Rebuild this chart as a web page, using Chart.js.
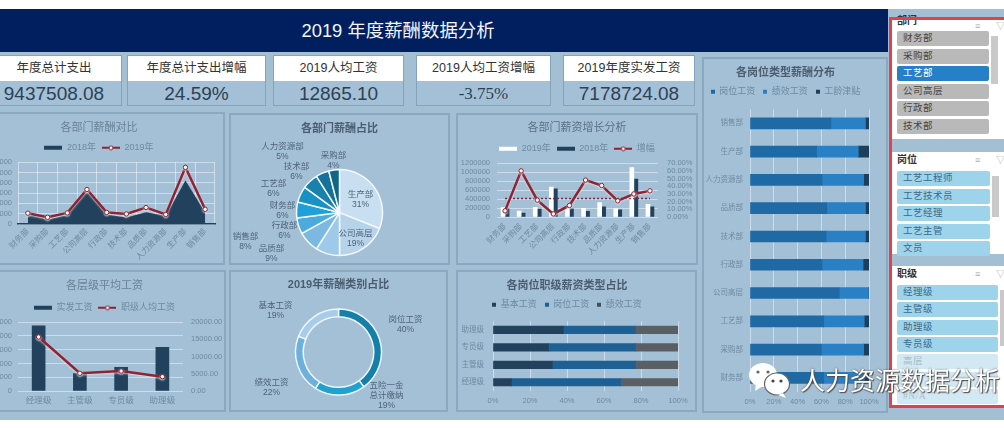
<!DOCTYPE html>
<html>
<head>
<meta charset="utf-8">
<script src="https://cdn.jsdelivr.net/npm/chart.js@4"></script>
<style>
html, body { margin: 0; padding: 0; background: #fff; overflow: hidden; }
body { width: 1004px; height: 428px; position: relative; font-family: "Liberation Sans", "Noto Sans CJK SC", sans-serif; }
#page { position: absolute; left: 0; top: 0; width: 1004px; height: 428px; overflow: hidden; filter: blur(0.35px); }
#bg { position: absolute; left: 0; top: 9px; width: 1004px; height: 411px; background: #a3bfd4; }
#head { position: absolute; left: 0; top: 9px; width: 888px; height: 43px; background: #011f5e; }
#head div { width: 796px; text-align: center; color: #f2f5fa; font-size: 18.4px; line-height: 43px; }
.panel { position: absolute; box-sizing: border-box; border: 2px solid #8aa9c0; background: #a4c0d6; }
.card { position: absolute; top: 55px; height: 51px; box-sizing: border-box; border: 1px solid #84a3ba; text-align: center; background: #a4c0d6; }
.card .k { height: 25px; line-height: 25px; background: #fff; color: #333; font-size: 12.5px; }
.card .v { line-height: 25px; color: #2c4155; font-size: 19px; }
canvas { position: absolute; }
.slicer { position: absolute; left: 892px; width: 112px; background: #fff; }
.slicer b { position: absolute; left: 5px; top: 1px; font-size: 10px; color: #333; line-height: 14px; }
.slicer i { position: absolute; font-style: normal; color: #aaa; font-size: 9px; line-height: 14px; top: 1px; }
.item { position: absolute; box-sizing: border-box; height: 15px; line-height: 15px; padding-left: 6px; border-radius: 2px; font-size: 9.5px; font-family: "Liberation Serif", "Noto Sans CJK SC", serif; letter-spacing: 0.5px; }
.bar { position: absolute; background: #c9c9c9; width: 7px; }
#frame { position: absolute; left: 889px; top: 17px; width: 130px; height: 391px; box-sizing: border-box; border: 3px solid #e2404a; }
#mark { position: absolute; left: 800px; top: 361px; font-size: 25px; line-height: 36px; color: #fff; white-space: nowrap; font-family: "Noto Sans CJK SC", sans-serif; text-shadow: 0 0 2px #444, 1px 1px 1px #555; }
#wx { position: absolute; left: 748px; top: 360px; }
</style>
</head>
<body>
<div id="page">
  <div id="bg"></div>
  <div id="head"><div>2019 年度薪酬数据分析</div></div>
  <div id="cards"></div>
  <div class="panel" style="left:-17px;top:112px;width:242px;height:153px"></div>
  <div class="panel" style="left:229px;top:113px;width:221px;height:152px"></div>
  <div class="panel" style="left:456px;top:113px;width:242px;height:152px"></div>
  <div class="panel" style="left:-17px;top:270px;width:243px;height:142px"></div>
  <div class="panel" style="left:229px;top:270px;width:219px;height:142px"></div>
  <div class="panel" style="left:456px;top:270px;width:241px;height:142px"></div>
  <div class="panel" style="left:702px;top:57px;width:186px;height:356px"></div>
  <div id="charts"></div>
  <div id="slicers"></div>
  <div id="frame"></div>
  <svg id="wx" width="50" height="40" viewBox="0 0 50 40">
    <ellipse cx="15" cy="15" rx="14" ry="12" fill="#fff"/>
    <path d="M8 24 L7 31 L15 26 Z" fill="#fff"/>
    <circle cx="10" cy="12" r="1.6" fill="#666"/><circle cx="20" cy="12" r="1.6" fill="#666"/>
    <ellipse cx="29" cy="24" rx="12.5" ry="11" fill="#fff" stroke="#666" stroke-width="1.2"/>
    <path d="M35 33 L38 38 L30 35 Z" fill="#fff"/>
    <circle cx="25" cy="21" r="1.6" fill="#444"/><circle cx="33" cy="21" r="1.6" fill="#444"/>
  </svg>
  <div id="mark">人力资源数据分析</div>
</div>

<script>
// values
const kpiNames = ["年度总计支出", "年度总计支出增幅", "2019人均工资", "2019人均工资增幅", "2019年度实发工资"];
const kpiValues = ["9437508.08", "24.59%", "12865.10", "-3.75%", "7178724.08"];

const depts = ["财务部", "采购部", "工艺部", "公司高层", "行政部", "技术部", "品质部", "人力资源部", "生产部", "销售部"];
const pay2019 = [210000, 130000, 215000, 670000, 225000, 195000, 320000, 185000, 1100000, 285000];
const pay2018 = [185000, 88000, 175000, 630000, 185000, 128000, 228000, 160000, 845000, 225000];
const growth = [8, 60, 22, 4, 15, 48, 41, 21, 30, 34];
const growthAvg = [24, 24, 24, 24, 24, 24, 24, 24, 24, 24];

const pieNames = ["生产部", "公司高层", "品质部", "销售部", "行政部", "财务部", "工艺部", "技术部", "人力资源部", "采购部"];
const pieShares = [31, 19, 9, 8, 6, 6, 6, 6, 5, 4];

const levels = ["经理级", "主管级", "专员级", "助理级"];
const levelPay = [2366000, 631000, 862000, 1590000];
const levelAvg = [15700, 5150, 5800, 4170];

const payTypes = ["岗位工资", "五险一金\n总计缴纳", "绩效工资", "基本工资"];
const payTypeShares = [40, 19, 22, 19];

const levelsRev = ["助理级", "专员级", "主管级", "经理级"];
const lvBase = [38, 30, 32, 10];
const lvPost = [39, 47, 45, 59];
const lvPerf = [23, 23, 23, 31];

const postDepts = ["销售部", "生产部", "人力资源部", "品质部", "技术部", "行政部", "公司高层", "工艺部", "采购部", "财务部"];
const postPay = [68, 56, 60.5, 64.5, 64, 60.5, 75, 62, 60, 62];
const perfPay = [29, 35, 35, 32.5, 33, 34.5, 24.5, 34, 35.5, 34];
const seniority = [3, 9, 4.5, 3, 3, 5, 0.5, 4, 4.5, 4];

const slicerDept = ["财务部", "采购部", "工艺部", "公司高层", "行政部", "技术部"];
const slicerPost = ["工艺工程师", "工艺技术员", "工艺经理", "工艺主管", "文员"];
const slicerLevel = ["经理级", "主管级", "助理级", "专员级", "高层", "员工", "#N/A"];

const FONT = "'Liberation Sans','Noto Sans CJK SC',sans-serif";
const RED = "#8f2233", DARK = "#22415c", TICK = "#6c8aa2", GRID = "rgba(255,255,255,.45)";

// KPI cards
const cardX = [[-14, 122], [127, 266], [273, 404], [416, 551], [563, 695]];
kpiNames.forEach((n, i) => {
  const d = document.createElement("div");
  d.className = "card";
  d.style.left = cardX[i][0] + "px";
  d.style.width = cardX[i][1] - cardX[i][0] + "px";
  const isSerif = i === 3 ? ' style="font-family:\'Liberation Serif\',serif;font-size:17px"' : "";
  d.innerHTML = `<div class="k">${n}</div><div class="v"${isSerif}>${kpiValues[i]}</div>`;
  document.getElementById("cards").appendChild(d);
});

// slicers on the right
function slicer(title, top, h, names, itemTop, step, width, styleOf, titleTop) {
  const s = document.createElement("div");
  s.className = "slicer";
  s.style.top = top + "px";
  s.style.height = h + "px";
  s.innerHTML = `<b style="top:${titleTop}px">${title}</b><i style="left:83px">≡</i><i style="left:104px">▽</i>`;
  names.forEach((n, i) => {
    const it = document.createElement("div");
    it.className = "item";
    it.textContent = n;
    it.style.cssText = `left:5px;top:${itemTop + i * step - top}px;width:${width}px;` + styleOf(i);
    s.appendChild(it);
  });
  const bar = document.createElement("div");
  bar.className = "bar";
  bar.style.cssText = `left:${width + 7}px;top:${itemTop + 5 - top}px;height:${h * 0.4}px`;
  s.appendChild(bar);
  document.getElementById("slicers").appendChild(s);
}
slicer("部门", 18, 121, slicerDept, 31, 17.5, 92, i => i === 2 ? "background:#2680c8;color:#fff" : "background:#b9b9b9;color:#444", -4);
slicer("岗位", 152, 102, slicerPost, 171, 17.5, 93, () => "background:#9ed3ec;color:#3c6a85", 1);
slicer("职级", 266, 139, slicerLevel, 285, 17.3, 101, i => i < 4 ? "background:#9ed3ec;color:#3c6a85" : "background:#d2e8f3;color:#a8bcc8", 1);

// --- chart helpers ---
function addChart(left, top, w, h, cfg) {
  const c = document.createElement("canvas");
  c.width = w;
  c.height = h;
  c.style.left = left + "px";
  c.style.top = top + "px";
  document.getElementById("charts").appendChild(c);
  cfg.options.responsive = false;
  cfg.options.animation = false;
  return new Chart(c.getContext("2d"), cfg);
}
function titleOpt(text, color, bold, top, bottom) {
  return { display: true, text, color, font: { size: 11, family: FONT, weight: bold ? "bold" : "normal" }, padding: { top, bottom } };
}
// little legend pictures, so bars and the marked line both get the right swatch
function swatch(kind, color, w, h) {
  const c = document.createElement("canvas");
  c.width = w;
  c.height = h;
  const x = c.getContext("2d");
  x.fillStyle = color;
  if (kind === "line") {
    x.fillRect(0, h / 2 - 1, w, 2);
    x.beginPath();
    x.arc(w / 2, h / 2, 2, 0, 7);
    x.fillStyle = "#fff";
    x.fill();
    x.strokeStyle = color;
    x.stroke();
  } else {
    x.fillRect(0, (h - 4) / 2, w, 4);
  }
  return c;
}
function legendOpt(items, w, gap) {
  return {
    display: true,
    onClick: null,
    labels: {
      color: TICK,
      font: { size: 9, family: FONT },
      usePointStyle: true,
      pointStyleWidth: w,
      boxHeight: 6,
      padding: gap,
      generateLabels: () => items.map(it => ({
        text: it[0],
        pointStyle: swatch(it[1], it[2], w, 6),
        fontColor: TICK,
        lineWidth: 0,
        strokeStyle: "transparent",
        fillStyle: "transparent"
      }))
    }
  };
}
function fixW(v) { return s => { s.width = v; }; }
function fixH(v) { return s => { s.height = v; }; }
function tickFont(size) { return { size, family: FONT }; }

// extra room between the legend and the plot
function legendGap(n) {
  return {
    id: "legendGap",
    beforeInit(chart) {
      const fit = chart.legend.fit;
      chart.legend.fit = function () {
        fit.call(this);
        this.height += n;
      };
    }
  };
}

// faint halo under the red lines
const halo = {
  id: "halo",
  beforeDatasetDraw(chart, a) {
    chart.ctx.save();
    if (chart.getDatasetMeta(a.index).type === "line" && chart.data.datasets[a.index].halo) {
      chart.ctx.shadowColor = "rgba(225,225,225,.8)";
      chart.ctx.shadowBlur = 2;
      chart.ctx.shadowOffsetY = 1;
    }
  },
  afterDatasetDraw(chart) { chart.ctx.restore(); }
};

// text outside/inside the pie slices, placed relative to the pie centre
function sliceLabels(names, shares, spots) {
  return {
    id: "sliceLabels",
    afterDraw(chart) {
      const arc = chart.getDatasetMeta(0).data[0];
      const ctx = chart.ctx;
      ctx.save();
      ctx.font = "8.5px " + FONT;
      ctx.fillStyle = "#4d6378";
      ctx.textAlign = "center";
      ctx.textBaseline = "middle";
      names.forEach((n, i) => {
        const lines = n.split("\n").concat(shares[i] + "%");
        lines.forEach((t, k) => ctx.fillText(t, arc.x + spots[i][0], arc.y + spots[i][1] + k * 9.7));
      });
      ctx.restore();
    }
  };
}

const lineStyle = {
  type: "line", tension: 0, borderColor: RED, borderWidth: 2.5, halo: true,
  pointRadius: 2.2, pointBackgroundColor: "#fff", pointBorderColor: RED, pointBorderWidth: 1
};

// 各部门薪酬对比
addChart(-17, 112, 242, 153, {
  type: "line",
  data: {
    labels: depts,
    datasets: [
      { ...lineStyle, label: "2019年", data: pay2019, order: 1 },
      { label: "2018年", data: pay2018, fill: "origin", backgroundColor: DARK, borderColor: DARK, borderWidth: 0, pointRadius: 0, tension: 0, order: 2 }
    ]
  },
  options: {
    layout: { padding: { right: 10, bottom: 2 } },
    plugins: {
      title: titleOpt("各部门薪酬对比", "#6a8296", false, 9, 3),
      legend: legendOpt([["2018年", "bar", DARK], ["2019年", "line", RED]], 18, 6)
    },
    scales: {
      x: {
        offset: true, afterFit: fixH(39),
        grid: { color: GRID, offset: true, drawTicks: false },
        border: { color: DARK, width: 1.5 },
        ticks: { color: TICK, font: tickFont(8), minRotation: 45, maxRotation: 45, autoSkip: false, padding: 3 }
      },
      y: {
        min: 0, max: 1200000, afterFit: fixW(35),
        grid: { color: GRID, drawTicks: false },
        border: { display: false },
        ticks: { color: TICK, font: tickFont(7.5), stepSize: 200000, padding: 6, autoSkip: false, callback: v => v }
      }
    }
  },
  plugins: [halo]
});

// 各部门薪酬占比
addChart(229, 113, 221, 152, {
  type: "pie",
  data: {
    labels: pieNames,
    datasets: [{
      data: pieShares, radius: 43, borderColor: "#f2f8fc", borderWidth: 1.5,
      backgroundColor: ["#c8dff1", "#b6d3ea", "#9fc9e8", "#7cb9e1", "#4caadd", "#1fa0db", "#1a91c5", "#1a81ae", "#15729b", "#0f6687"]
    }]
  },
  options: {
    plugins: { legend: { display: false }, tooltip: { enabled: false }, title: titleOpt("各部门薪酬占比", "#4c5d6e", true, 9, 25) }
  },
  plugins: [sliceLabels(pieNames, pieShares, [
    [21, -18], [16, 21], [-68, 36], [-94, 24], [-55, 13], [-57, -7], [-66, -29], [-43, -46], [-57, -66], [-6, -57]
  ])]
});

// 各部门薪资增长分析
addChart(456, 113, 242, 152, {
  type: "bar",
  data: {
    labels: depts,
    datasets: [
      { type: "bar", label: "2019年", data: pay2019, backgroundColor: "#fff", barThickness: 4, order: 3 },
      { type: "bar", label: "2018年", data: pay2018, backgroundColor: DARK, barThickness: 4, order: 3 },
      { ...lineStyle, label: "增幅", data: growth, yAxisID: "y1", order: 1 },
      { type: "line", label: "平均", data: growthAvg, yAxisID: "y1", borderColor: RED, borderWidth: 1.5, borderDash: [2, 2], pointRadius: 0, order: 2 }
    ]
  },
  options: {
    plugins: {
      title: titleOpt("各部门薪资增长分析", "#5c7084", false, 8, 4),
      legend: legendOpt([["2019年", "bar", "#fff"], ["2018年", "bar", DARK], ["增幅", "line", RED]], 18, 6)
    },
    scales: {
      x: {
        afterFit: fixH(48),
        grid: { display: false, drawTicks: false },
        border: { display: false },
        ticks: { color: TICK, font: tickFont(8), minRotation: 45, maxRotation: 45, autoSkip: false, padding: 5 }
      },
      y: {
        min: 0, max: 1200000, afterFit: fixW(41),
        grid: { color: GRID, drawTicks: false },
        border: { display: false },
        ticks: { color: TICK, font: tickFont(7.5), stepSize: 200000, padding: 7, autoSkip: false, callback: v => v }
      },
      y1: {
        position: "right", min: 0, max: 70, afterFit: fixW(40),
        grid: { display: false, drawTicks: false },
        border: { display: false },
        ticks: { color: TICK, font: tickFont(7.5), stepSize: 10, padding: 9, autoSkip: false, callback: v => v.toFixed(2) + "%" }
      }
    }
  },
  plugins: [halo]
});

// 各层级平均工资
addChart(-17, 270, 243, 142, {
  type: "bar",
  data: {
    labels: levels,
    datasets: [
      { type: "bar", label: "实发工资", data: levelPay, backgroundColor: DARK, barThickness: 13, order: 2 },
      { ...lineStyle, label: "职级人均工资", data: levelAvg, yAxisID: "y1", order: 1 }
    ]
  },
  options: {
    plugins: {
      title: titleOpt("各层级平均工资", "#6a8296", false, 9, 5),
      legend: legendOpt([["实发工资", "bar", DARK], ["职级人均工资", "line", RED]], 18, 6)
    },
    scales: {
      x: {
        afterFit: fixH(21),
        grid: { display: false, drawTicks: false },
        border: { display: false },
        ticks: { color: TICK, font: tickFont(8.5), padding: 5 }
      },
      y: {
        min: 0, max: 2500000, afterFit: fixW(35),
        grid: { color: GRID, drawTicks: false },
        border: { display: false },
        ticks: { color: TICK, font: tickFont(7.5), stepSize: 500000, padding: 6, autoSkip: false, callback: v => v }
      },
      y1: {
        position: "right", min: 0, max: 20000, afterFit: fixW(43),
        grid: { display: false, drawTicks: false },
        border: { display: false },
        ticks: { color: TICK, font: tickFont(7.5), stepSize: 5000, padding: 8, autoSkip: false, callback: v => v.toFixed(2) }
      }
    }
  },
  plugins: [halo]
});

// 2019年薪酬类别占比
addChart(229, 270, 219, 142, {
  type: "doughnut",
  data: {
    labels: payTypes,
    datasets: [{
      data: payTypeShares, radius: 43, cutout: "82%", borderColor: "#eef6fb", borderWidth: 1.5,
      backgroundColor: ["#147fa8", "#22a0cf", "#6db0dc", "#a9cde8"]
    }]
  },
  options: {
    plugins: { legend: { display: false }, tooltip: { enabled: false }, title: titleOpt("2019年薪酬类别占比", "#4c5d6e", true, 8, 1) }
  },
  plugins: [sliceLabels(payTypes, payTypeShares, [[67, -32], [48, 34], [-67, 31], [-63, -46]])]
});

// stacked 100% bars, two panels share this
function stackOpts(title, titleTop, titleBot, legendItems, labelW, labelPad, rightPad) {
  return {
    indexAxis: "y",
    layout: { padding: { right: rightPad } },
    plugins: {
      title: titleOpt(title, "#4c5d6e", true, titleTop, titleBot),
      legend: legendOpt(legendItems, 4, 8)
    },
    scales: {
      x: {
        stacked: true, min: 0, max: 100, afterFit: fixH(21),
        grid: { color: GRID, drawTicks: false },
        border: { display: false },
        ticks: { color: TICK, font: tickFont(7.5), stepSize: 20, padding: 5, maxRotation: 0, autoSkip: false, callback: v => v + "%" }
      },
      y: {
        stacked: true, afterFit: fixW(labelW),
        grid: { display: false, drawTicks: false },
        border: { display: false },
        ticks: { color: TICK, font: tickFont(7.5), autoSkip: false, padding: labelPad }
      }
    }
  };
}

// 各岗位职级薪资类型占比
addChart(456, 270, 241, 142, {
  type: "bar",
  data: {
    labels: levelsRev,
    datasets: [
      { label: "基本工资", data: lvBase, backgroundColor: DARK, barThickness: 7.5 },
      { label: "岗位工资", data: lvPost, backgroundColor: "#1e5f94", barThickness: 7.5 },
      { label: "绩效工资", data: lvPerf, backgroundColor: "#5a5f66", barThickness: 7.5 }
    ]
  },
  options: stackOpts("各岗位职级薪资类型占比", 9, 0, [["基本工资", "bar", DARK], ["岗位工资", "bar", "#1e5f94"], ["绩效工资", "bar", "#42505c"]], 37, 9, 19),
  plugins: [legendGap(2)]
});

// 各岗位类型薪酬分布
addChart(702, 57, 186, 356, {
  type: "bar",
  data: {
    labels: postDepts,
    datasets: [
      { label: "岗位工资", data: postPay, backgroundColor: "#1f6aa5", barThickness: 11 },
      { label: "绩效工资", data: perfPay, backgroundColor: "#2a80c4", barThickness: 11 },
      { label: "工龄津贴", data: seniority, backgroundColor: "#1e3f5c", barThickness: 11 }
    ]
  },
  options: stackOpts("各岗位类型薪酬分布", 9, 0, [["岗位工资", "bar", "#1f6aa5"], ["绩效工资", "bar", "#2a80c4"], ["工龄津贴", "bar", "#1e3f5c"]], 48, 7, 19),
  plugins: [legendGap(3)]
});
</script>
</body>
</html>
